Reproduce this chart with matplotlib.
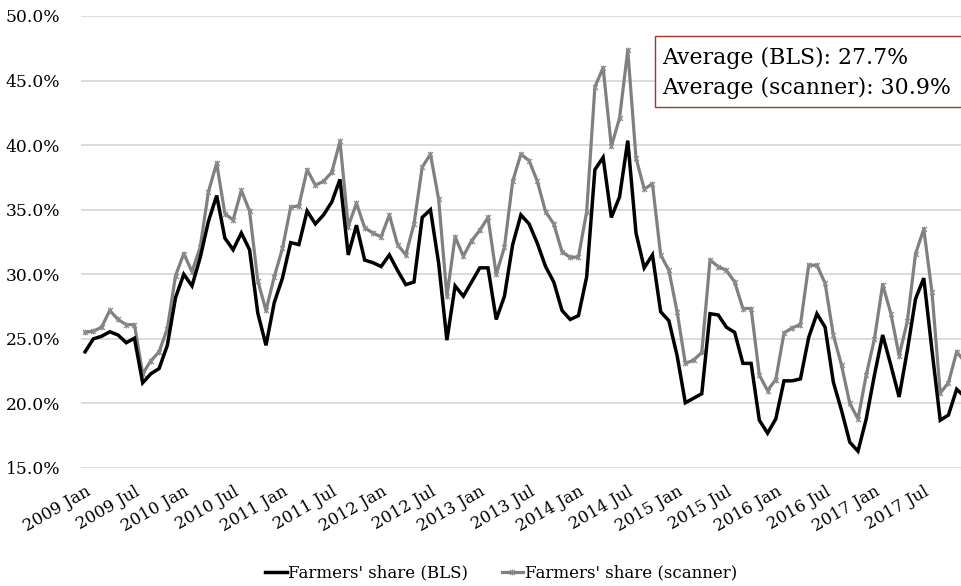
import matplotlib
matplotlib.use("Agg")
import matplotlib.pyplot as plt
from matplotlib.path import Path
from matplotlib.patches import Rectangle
from matplotlib.ticker import FuncFormatter, FixedLocator

plt.rcParams['font.family'] = ['DejaVu Serif']

months = ["Jan", "Feb", "Mar", "Apr", "May", "Jun", "Jul", "Aug", "Sep", "Oct", "Nov", "Dec"]
periods = [f"{y} {m}" for y in range(2009, 2018) for m in months]

bls = [24.0, 25.0, 25.2, 25.55, 25.3, 24.7, 25.05, 21.6, 22.3, 22.7, 24.5, 28.2,
       30.0, 29.1, 31.3, 34.1, 36.1, 32.8, 31.9, 33.2, 31.9, 27.0, 24.5, 27.8,
       29.7, 32.45, 32.3, 34.9, 33.9, 34.6, 35.6, 37.35, 31.5, 33.8, 31.1, 30.9,
       30.6, 31.5, 30.3, 29.2, 29.4, 34.4, 35.0, 30.85, 24.9, 29.1, 28.3, 29.4,
       30.5, 30.5, 26.5, 28.3, 32.3, 34.6, 33.9, 32.4, 30.6, 29.4, 27.2, 26.5,
       26.8, 29.8, 38.1, 39.05, 34.4, 36.0, 40.35, 33.2, 30.5, 31.5, 27.1, 26.4,
       23.7, 20.05, 20.4, 20.75, 26.95, 26.85, 25.9, 25.5, 23.1, 23.1, 18.7, 17.7,
       18.8, 21.75, 21.75, 21.9, 25.1, 26.95, 25.9, 21.65, 19.45, 17.0, 16.3, 18.8,
       22.2, 25.3, 22.95, 20.5, 24.1, 28.1, 29.7, 24.1, 18.7, 19.1, 21.1, 20.5]

scanner = [25.5, 25.6, 25.9, 27.2, 26.5, 26.1, 26.1, 22.3, 23.3, 24.0, 25.8, 29.9,
           31.6, 30.2, 32.1, 36.4, 38.6, 34.7, 34.2, 36.5, 34.9, 29.5, 27.2, 29.8,
           32.0, 35.2, 35.3, 38.1, 36.9, 37.2, 37.9, 40.3, 33.7, 35.5, 33.6, 33.2,
           32.9, 34.6, 32.3, 31.5, 33.9, 38.3, 39.3, 35.8, 28.3, 32.9, 31.4, 32.6,
           33.4, 34.4, 30.0, 32.1, 37.2, 39.3, 38.8, 37.2, 34.85, 33.9, 31.75, 31.3,
           31.35, 34.85, 44.5, 46.0, 39.9, 42.1, 47.35, 39.0, 36.6, 37.0, 31.5, 30.3,
           27.1, 23.1, 23.35, 23.95, 31.1, 30.6, 30.3, 29.4, 27.35, 27.35, 22.2, 21.0,
           21.85, 25.45, 25.85, 26.1, 30.7, 30.7, 29.3, 25.3, 22.95, 20.0, 18.8, 22.2,
           25.0, 29.2, 26.95, 23.7, 26.35, 31.6, 33.5, 28.6, 20.8, 21.6, 24.0, 23.2]

series_labels = ["Farmers' share (BLS)", "Farmers' share (scanner)"]
box_lines = ["Average (BLS): 27.7%", "Average (scanner): 30.9%"]
y_ticks = [15, 20, 25, 30, 35, 40, 45, 50]

W, H = 961, 586
fig = plt.figure(figsize=(W / 100, H / 100), dpi=100)
ax = fig.add_axes([81 / W, (H - 468) / H, 888 / W, 452 / H])

x = list(range(len(periods)))

# Excel-like star marker: x plus vertical bar
star = Path([(-1, -1), (1, 1), (-1, 1), (1, -1), (0, -1.2), (0, 1.2)],
            [Path.MOVETO, Path.LINETO, Path.MOVETO, Path.LINETO, Path.MOVETO, Path.LINETO])

gray = '#808080'
ax.plot(x, bls, color='black', lw=2.5, label=series_labels[0], zorder=4,
        solid_joinstyle='miter')
ax.plot(x, scanner, color=gray, lw=2.3, marker=star, markersize=4.2,
        markeredgewidth=0.9, markeredgecolor='#8a8a8a', label=series_labels[1], zorder=3)

ax.set_xlim(-0.5, len(periods) - 0.5)
ax.set_ylim(15, 50)
ax.yaxis.set_major_locator(FixedLocator(y_ticks))
ax.yaxis.set_major_formatter(FuncFormatter(lambda v, p: f"{v:.1f}%"))
ax.grid(axis='y', color='#d9d9d9', lw=1.3, zorder=0)
ax.set_axisbelow(True)
for s in ax.spines.values():
    s.set_visible(False)

tick_pos = x[::6]
ax.set_xticks(tick_pos)
ax.set_xticklabels([periods[i] for i in tick_pos], rotation=30, ha='right',
                   rotation_mode='anchor', fontsize=12)
ax.tick_params(axis='x', length=0, pad=11)
ax.tick_params(axis='y', length=0, pad=15, labelsize=12.3)

# text box
rect = Rectangle((655 / W, (H - 107) / H), 340 / W, 71 / H, transform=fig.transFigure,
                 facecolor='white', edgecolor='#a83232', lw=1.0, zorder=10)
fig.patches.append(rect)
fig.text(662 / W, (H - 58) / H, box_lines[0], fontsize=15.8, va='center', ha='left', zorder=11)
fig.text(662 / W, (H - 88) / H, box_lines[1], fontsize=15.8, va='center', ha='left', zorder=11)

handles, labels = ax.get_legend_handles_labels()
fig.legend(handles, labels, loc='center', bbox_to_anchor=(501 / W, (H - 573) / H), ncol=2,
           frameon=False, fontsize=12, handlelength=1.3, handletextpad=0.1,
           columnspacing=2.0)

fig.savefig("out.png", dpi=100)
